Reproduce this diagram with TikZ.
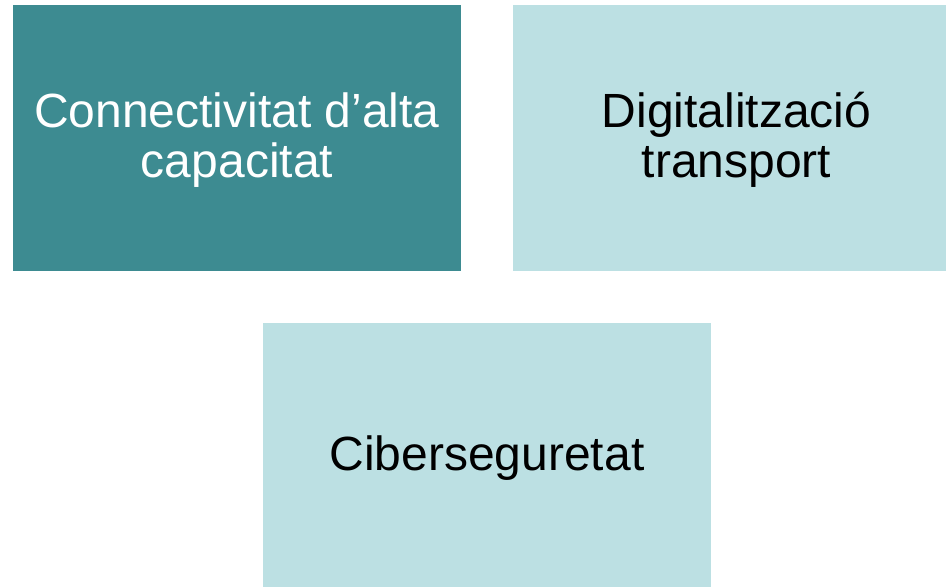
\documentclass[tikz,border=0pt]{standalone}
\usepackage{fontspec}
\setmainfont{Liberation Sans}
\usetikzlibrary{positioning}
\definecolor{tealdark}{HTML}{3D8B91}
\definecolor{teallight}{HTML}{BCE0E3}
\tikzset{
  topic/.style={minimum width=448pt, minimum height=266pt, inner sep=0pt, align=center,
    font=\fontsize{48}{50}\selectfont},
  mainbox/.style={topic, fill=tealdark, text=white},
  sidebox/.style={topic, fill=teallight, text=black},
  label/.style={align=center, font=\fontsize{48}{50}\selectfont}
}
\begin{document}
\begin{tikzpicture}[x=1pt, y=-1pt]
  \useasboundingbox (0,0) rectangle (946,587);
  \node[mainbox] (conn) at (237,138) {};
  \node[label, text=white] (conntext) at ([yshift=-2pt]conn.center) {Connectivitat d’alta\\capacitat};
  \node[sidebox, minimum width=433pt] (digi) at (729.5,138) {};
  \node[label] (digitext) at ([xshift=7pt, yshift=-2pt]digi.center) {Digitalització\\transport};
  \node[sidebox, minimum height=264pt] (ciber) at (487,455) {};
  \node[label] (cibertext) at ([yshift=-3pt]ciber.center) {Ciberseguretat};
\end{tikzpicture}
\end{document}
